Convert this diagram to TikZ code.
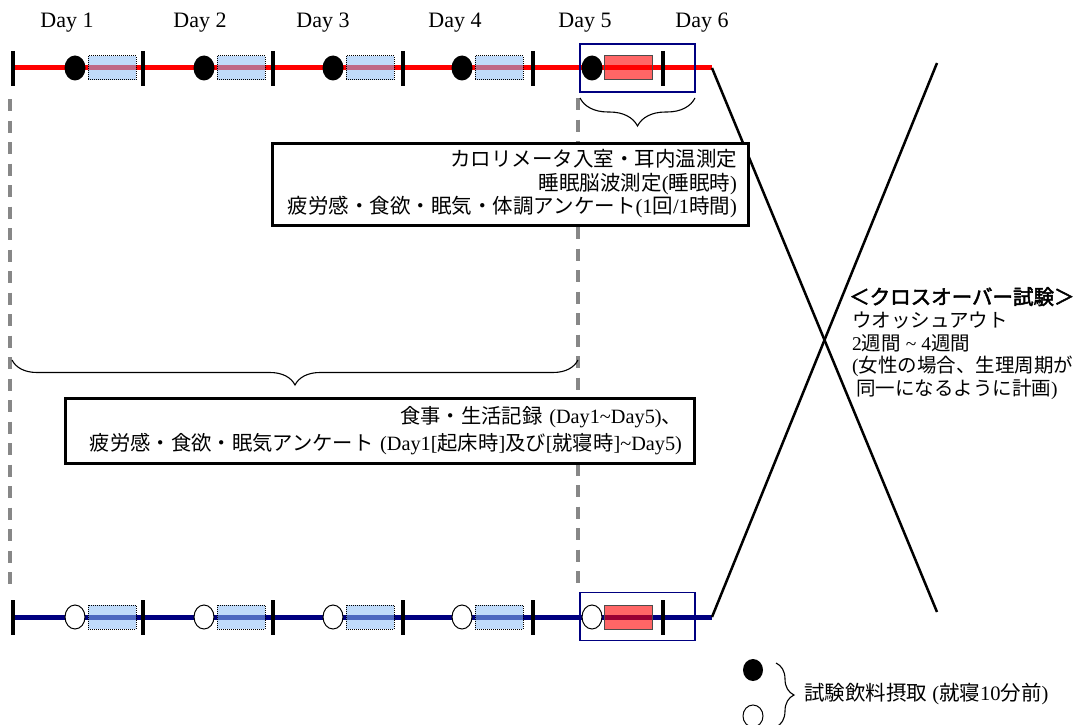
\documentclass[tikz,border=0pt]{standalone}
\usepackage{fontspec}
\setmainfont{Liberation Serif}
\newfontfamily\jp[AutoFakeBold=2.5]{Noto Sans CJK JP}
\usetikzlibrary{decorations.pathreplacing,shapes.geometric}
\definecolor{navy}{RGB}{0,0,128}
\definecolor{lblue}{RGB}{140,190,245}
\definecolor{dgray}{RGB}{135,135,135}
\begin{document}
\begin{tikzpicture}[x=1pt,y=-1pt,
  redline/.style={line width=5pt, red},
  blueline/.style={line width=5pt, navy},
  tickmark/.style={line width=4pt, black},
  crossline/.style={line width=2.5pt, black},
  guide/.style={line width=3.2pt, dgray, dash pattern=on 12pt off 9.5pt},
  dayrect/.style={draw=black, densely dotted, line width=1pt, fill=lblue, fill opacity=0.55, minimum width=48pt, minimum height=24pt, inner sep=0pt},
  testrect/.style={draw=black!70, line width=1pt, fill=red, fill opacity=0.6, minimum width=48pt, minimum height=24pt, inner sep=0pt},
  fdot/.style={ellipse, fill=black, minimum width=21pt, minimum height=25pt, inner sep=0pt},
  odot/.style={ellipse, draw=black, line width=1pt, fill=white, minimum width=20pt, minimum height=24pt, inner sep=0pt},
  dayframe/.style={draw=navy, line width=1.5pt, minimum width=115pt, minimum height=48pt, inner sep=0pt},
  daylabel/.style={font=\fontsize{22}{24}\selectfont, inner sep=0pt},
  infobox/.style={draw=black, line width=3pt, fill=white, align=right},
  bracestyle/.style={line width=1.1pt, decorate},
  plain/.style={inner sep=0pt, font=\fontsize{19.5}{22.8}\selectfont}
]
\useasboundingbox (0,0) rectangle (1079,725);

% guide lines
\coordinate (gl1) at (10,99); \coordinate (gl2) at (10,592);
\coordinate (gr1) at (578,98); \coordinate (gr2) at (578,592);
\draw[guide] (gl1) -- (gl2);
\draw[guide] (gr1) -- (gr2);

% day labels
\node[daylabel] (d1) at (67,23) {Day 1};
\node[daylabel] (d2) at (200,23) {Day 2};
\node[daylabel] (d3) at (323,23) {Day 3};
\node[daylabel] (d4) at (455,23) {Day 4};
\node[daylabel] (d5) at (585,23) {Day 5};
\node[daylabel] (d6) at (702,23) {Day 6};

% timelines
\coordinate (tL) at (12,68); \coordinate (tR) at (712,68);
\coordinate (bL) at (12,617); \coordinate (bR) at (712,617);
\draw[redline] (tL) -- (tR);
\draw[blueline] (bL) -- (bR);

% crossover X
\coordinate (xb) at (937,612); \coordinate (xd) at (937,63);
\draw[crossline] (tR) -- (xb);
\draw[crossline] (bR) -- (xd);

% days 1-4
\foreach \k in {0,1,2,3}{
  \node[dayrect] (tr\k) at ({112+129*\k},68) {};
  \node[fdot] (td\k) at ({75+129*\k},68) {};
  \node[dayrect] (br\k) at ({112+129*\k},617) {};
  \node[odot] (bd\k) at ({75+129*\k},617) {};
}
% day 5
\node[testrect] (tr4) at (628,68) {};
\node[fdot] (td4) at (592,68) {};
\node[testrect] (br4) at (628,617) {};
\node[odot] (bd4) at (592,617) {};

% ticks
\foreach \k in {0,...,5}{
  \coordinate (tt\k a) at ({13+130*\k},51);
  \coordinate (tt\k b) at ({13+130*\k},86);
  \coordinate (bt\k a) at ({13+130*\k},600);
  \coordinate (bt\k b) at ({13+130*\k},635);
  \draw[tickmark] (tt\k a) -- (tt\k b);
  \draw[tickmark] (bt\k a) -- (bt\k b);
}

% day 5 frames
\node[dayframe] (f5t) at (637.5,68) {};
\node[dayframe] (f5b) at (637.5,616.5) {};

% braces
\coordinate (sbR) at (695,98); \coordinate (sbL) at (580,98);
\draw[bracestyle, decoration={brace, amplitude=28pt}] (sbR) -- (sbL);
\coordinate (bbR) at (578,360); \coordinate (bbL) at (12,360);
\draw[bracestyle, decoration={brace, amplitude=25pt}] (bbR) -- (bbL);

% info boxes
\node[infobox, text width=454pt, inner xsep=11pt, minimum height=82pt,
      font=\fontsize{20.5}{23.5}\selectfont] (box1) at (510,184)
  {{\jp カロリメータ入室・耳内温測定}\\
   {\jp 睡眠脳波測定}({\jp 睡眠時})\\
   {\jp 疲労感・食欲・眠気・体調アンケート}(1{\jp 回}/1{\jp 時間})};
\node[infobox, text width=605pt, inner xsep=12pt, minimum height=65pt,
      font=\fontsize{20.3}{27}\selectfont] (box2) at (379.5,430.5)
  {{\jp 食事・生活記録} (Day1\textasciitilde Day5){\jp 、}\\
   \mbox{{\jp 疲労感・食欲・眠気アンケート} (Day1[{\jp 起床時}]{\jp 及び}[{\jp 就寝時}]\textasciitilde Day5)}};

% crossover text
\node[plain, anchor=north west, align=left] (cross) at (849,287)
  {{\fontsize{20.5}{22.8}\selectfont\jp\bfseries ＜クロスオーバー試験＞}\\
   \hspace*{3pt}{\jp ウオッシュアウト}\\
   \hspace*{3pt}2{\jp 週間} \textasciitilde{} 4{\jp 週間}\\
   \hspace*{3pt}({\jp 女性の場合、生理周期が}\\
   \hspace*{7pt}{\jp 同一になるように計画})};

% legend
\node[fdot, minimum width=20pt, minimum height=22pt] (lf) at (753,670) {};
\node[odot, minimum width=20pt, minimum height=22pt] (lo) at (753,716) {};
\coordinate (lbT) at (776,663); \coordinate (lbB) at (776,727);
\draw[bracestyle, decoration={brace, amplitude=18pt}] (lbT) -- (lbB);
\node[plain, font=\fontsize{20.5}{22}\selectfont, anchor=west] (legend) at (804,694)
  {{\jp 試験飲料摂取} ({\jp 就寝}10{\jp 分前})};
\end{tikzpicture}
\end{document}
